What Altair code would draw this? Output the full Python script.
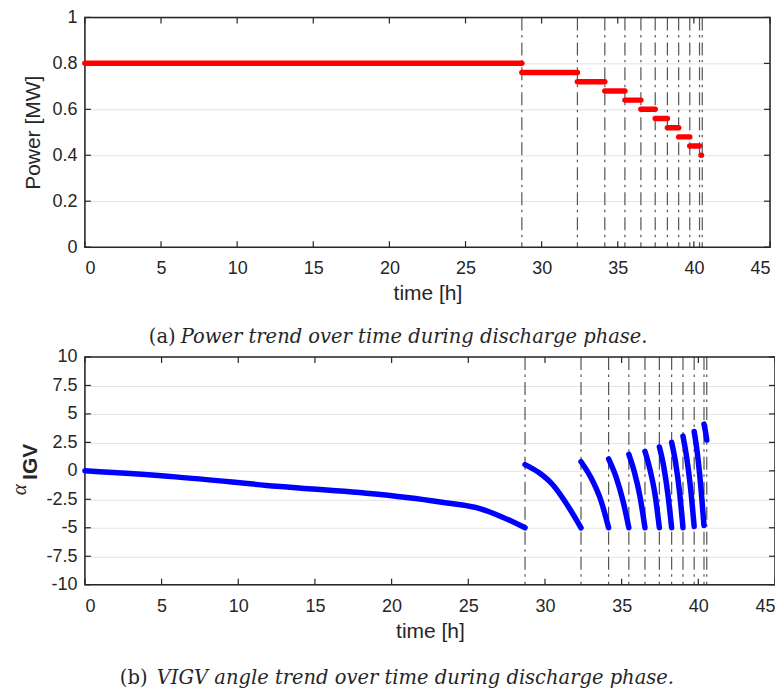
import altair as alt
import pandas as pd

# ---------------- data ----------------
X_TICKS = [0, 5, 10, 15, 20, 25, 30, 35, 40, 45]
P_TICKS = [0, 0.2, 0.4, 0.6, 0.8, 1.0]
A_TICKS = [-10, -7.5, -5, -2.5, 0, 2.5, 5, 7.5, 10]

POWER_LEVEL = [0.80, 0.76, 0.72, 0.68, 0.64, 0.60, 0.56, 0.52, 0.48, 0.44, 0.40]
SEG_START = [0.0, 28.7, 32.35, 34.15, 35.47, 36.52, 37.46, 38.26, 39.0, 39.73, 40.47]
SEG_END = [28.7, 32.35, 34.15, 35.47, 36.52, 37.46, 38.26, 39.0, 39.73, 40.37, 40.50]

VLINES = [28.7, 32.35, 34.15, 35.47, 36.52, 37.46, 38.26, 39.0, 39.73, 40.37, 40.55]

ANGLE_T = [
    [0.0, 5.9, 12.5, 19.1, 23.5, 25.7, 27.2, 28.7],
    [28.7, 29.6, 30.48, 31.36, 32.35],
    [32.35, 33.0, 33.66, 34.15],
    [34.15, 34.65, 35.09, 35.47],
    [35.47, 35.83, 36.19, 36.52],
    [36.52, 36.85, 37.18, 37.46],
    [37.46, 37.74, 38.01, 38.26],
    [38.26, 38.52, 38.78, 39.0],
    [39.0, 39.25, 39.5, 39.73],
    [39.73, 39.95, 40.17, 40.37],
    [40.37, 40.46, 40.55],
]
ANGLE_V = [
    [0.0, -0.53, -1.35, -2.06, -2.8, -3.3, -4.05, -5.0],
    [0.55, -0.15, -1.18, -2.8, -5.0],
    [0.8, -0.6, -2.65, -5.0],
    [1.05, -0.6, -2.65, -5.0],
    [1.45, -0.1, -2.2, -5.0],
    [1.72, 0.1, -2.1, -5.0],
    [2.1, 0.4, -2.0, -5.0],
    [2.5, 0.7, -1.9, -5.0],
    [3.05, 1.1, -1.6, -4.9],
    [3.45, 1.4, -1.5, -4.8],
    [4.1, 3.5, 2.7],
]

# ---------------- frames ----------------
power_df = pd.DataFrame({"t0": SEG_START, "t1": SEG_END, "p": POWER_LEVEL})
vline_df = pd.DataFrame({"t": VLINES})
xt_df = pd.DataFrame({"t": X_TICKS})
pt_df = pd.DataFrame({"v": P_TICKS})
at_df = pd.DataFrame({"v": A_TICKS})
rows = []
for k, (ts, vs) in enumerate(zip(ANGLE_T, ANGLE_V)):
    for i, (t, v) in enumerate(zip(ts, vs)):
        rows.append({"seg": k, "i": i, "t": t, "a": v})
angle_df = pd.DataFrame(rows)
one = pd.DataFrame({"d": [0]})

DARK = "#262626"
FONT = "Liberation Sans"
SERIF = "DejaVu Serif"
CAP_SIZE = 19.5

W1, H1 = 686, 230
W2, H2 = 691, 228


def make_xaxis(lp=13):
    return alt.Axis(values=X_TICKS, title="time [h]", grid=False, ticks=False,
                    domain=False, labelPadding=lp, labelFontSize=18,
                    titleFontSize=21, titleFontWeight="normal", titlePadding=5,
                    labelColor=DARK, titleColor=DARK, labelFont=FONT, titleFont=FONT,
                    labelExpr="datum.value + ''")


def make_yaxis(values, title):
    kw = dict(values=values, grid=True, gridColor="#e3e3e3", gridWidth=1,
              ticks=False, domain=False, labelPadding=8, labelFontSize=18,
              labelColor=DARK, labelFont=FONT, labelExpr="datum.value + ''")
    if title:
        kw.update(title=title, titleFontSize=21, titleFontWeight="normal",
                  titlePadding=8, titleColor=DARK, titleFont=FONT)
    else:
        kw.update(title=None)
    return alt.Axis(**kw)


def helper_layers(xscale, xax, yscale, yax, ydf, W, H):
    vl = alt.Chart(vline_df).mark_rule(color="#555555", strokeWidth=1.2,
                                       strokeDash=[13, 4.5, 2.5, 5]).encode(
        x=alt.X("t:Q", scale=xscale, axis=xax), y=alt.value(0), y2=alt.value(H))
    xb = alt.Chart(xt_df).mark_rule(color=DARK, strokeWidth=1.2).encode(
        x=alt.X("t:Q", scale=xscale, axis=xax), y=alt.value(H), y2=alt.value(H - 6))
    xtp = alt.Chart(xt_df).mark_rule(color=DARK, strokeWidth=1.2).encode(
        x=alt.X("t:Q", scale=xscale, axis=xax), y=alt.value(0), y2=alt.value(6))
    yl = alt.Chart(ydf).mark_rule(color=DARK, strokeWidth=1.2).encode(
        y=alt.Y("v:Q", scale=yscale, axis=yax), x=alt.value(0), x2=alt.value(6))
    yr = alt.Chart(ydf).mark_rule(color=DARK, strokeWidth=1.2).encode(
        y=alt.Y("v:Q", scale=yscale, axis=yax), x=alt.value(W - 6), x2=alt.value(W))
    frame = alt.Chart(one).mark_rect(fillOpacity=0, stroke=DARK, strokeWidth=1.5).encode(
        x=alt.value(0), x2=alt.value(W), y=alt.value(0), y2=alt.value(H))
    return [vl, xb, xtp, yl, yr, frame]


# ---------------- top panel ----------------
xs1 = alt.Scale(domain=[0, 45], nice=False)
ys1 = alt.Scale(domain=[0, 1], nice=False)
xax1 = make_xaxis(12)
yax1 = make_yaxis(P_TICKS, "Power [MW]")

power = alt.Chart(power_df).mark_rule(color="#ff0000", strokeWidth=5.5,
                                      strokeCap="round").encode(
    x=alt.X("t0:Q", scale=xs1, axis=xax1),
    x2="t1:Q",
    y=alt.Y("p:Q", scale=ys1, axis=yax1),
)

cap_a1 = alt.Chart(one).mark_text(align="left", baseline="middle", font=SERIF,
                                  fontSize=CAP_SIZE, color=DARK).encode(
    x=alt.value(64), y=alt.value(320), text=alt.value("(a)"))
cap_a2 = alt.Chart(one).mark_text(align="left", baseline="middle", font=SERIF,
                                  fontSize=CAP_SIZE, fontStyle="italic", color=DARK).encode(
    x=alt.value(96), y=alt.value(320),
    text=alt.value("Power trend over time during discharge phase."))

top = alt.layer(*helper_layers(xs1, xax1, ys1, yax1, pt_df, W1, H1), power,
                cap_a1, cap_a2).properties(width=W1, height=H1)

# ---------------- bottom panel ----------------
xs2 = alt.Scale(domain=[0, 45], nice=False)
ys2 = alt.Scale(domain=[-10, 10], nice=False)
xax2 = make_xaxis(13)
yax2 = make_yaxis(A_TICKS, None)

angle = alt.Chart(angle_df).mark_line(color="#0000ff", strokeWidth=5.5,
                                      strokeCap="round", interpolate="monotone").encode(
    x=alt.X("t:Q", scale=xs2, axis=xax2),
    y=alt.Y("a:Q", scale=ys2, axis=yax2),
    detail="seg:N",
    order="i:Q",
)

alpha_t = alt.Chart(one).mark_text(align="center", baseline="middle", font="Liberation Serif",
                                   fontSize=21, fontStyle="italic", angle=270,
                                   color=DARK).encode(
    x=alt.value(-65), y=alt.value(133), text=alt.value("α"))
igv_t = alt.Chart(one).mark_text(align="center", baseline="middle", font=FONT,
                                 fontSize=21, fontWeight="bold", angle=270,
                                 color=DARK).encode(
    x=alt.value(-54), y=alt.value(105), text=alt.value("IGV"))
cap_b1 = alt.Chart(one).mark_text(align="left", baseline="middle", font=SERIF,
                                  fontSize=CAP_SIZE, color=DARK).encode(
    x=alt.value(35), y=alt.value(321), text=alt.value("(b)"))
cap_b2 = alt.Chart(one).mark_text(align="left", baseline="middle", font=SERIF,
                                  fontSize=CAP_SIZE, fontStyle="italic", color=DARK).encode(
    x=alt.value(72), y=alt.value(321),
    text=alt.value("VIGV angle trend over time during discharge phase."))

bottom = alt.layer(*helper_layers(xs2, xax2, ys2, yax2, at_df, W2, H2), angle,
                   alpha_t, igv_t, cap_b1, cap_b2).properties(width=W2, height=H2)

chart = alt.vconcat(top, bottom, spacing=0).properties(
    padding={"left": 0, "top": -1, "right": -2, "bottom": 0}
).configure_view(stroke=None).configure(background="white")

chart.save("out.html", embed_options={"renderer": "svg", "actions": False})
